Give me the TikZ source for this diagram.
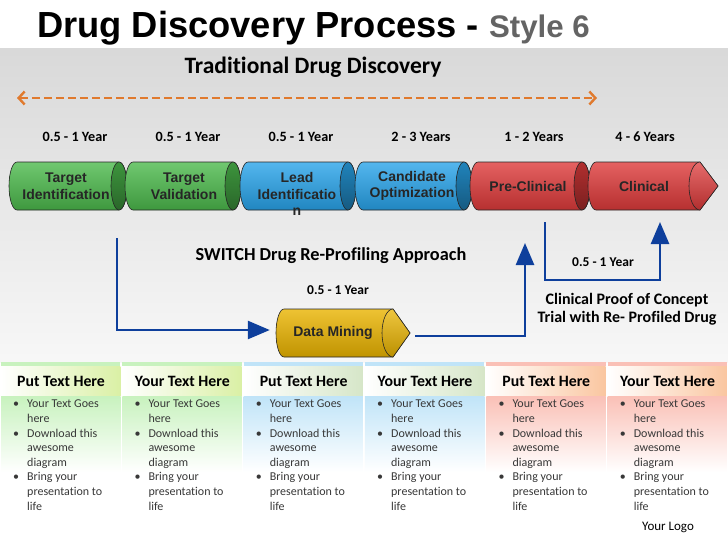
\documentclass[tikz,border=0pt]{standalone}
\usepackage{fontspec}
\setmainfont[Ligatures=NoCommon]{Carlito}
\newfontfamily\arialfont{Liberation Sans}
\newfontfamily\titlefont{Liberation Sans}
\usetikzlibrary{arrows.meta}

\definecolor{segGreen}{RGB}{76,186,76}
\definecolor{segBlue}{RGB}{40,164,234}
\definecolor{segRed}{RGB}{222,58,58}
\definecolor{segGold}{RGB}{234,180,0}
\definecolor{arrowBlue}{RGB}{14,63,156}
\definecolor{dashOrange}{RGB}{224,122,46}
\definecolor{styleGray}{RGB}{100,100,100}
\definecolor{pGreen}{RGB}{200,242,190}
\definecolor{pBlue}{RGB}{192,228,248}
\definecolor{pRed}{RGB}{250,192,182}
\definecolor{hGreen}{RGB}{218,240,165}
\definecolor{hBlue}{RGB}{214,230,200}
\definecolor{hRed}{RGB}{250,198,160}

% one drum of the chain: left x, right x, middle y, colour
\newcommand{\drumseg}[4]{%
  \draw[black!85,line width=0.6pt,top color=#4!80!white,middle color=#4!50!white,bottom color=#4!82!black]
    (#1+8,#3-24) arc[start angle=270,end angle=90,x radius=8,y radius=24]
    -- (#2-8,#3+24) arc[start angle=90,end angle=-90,x radius=8,y radius=24] -- cycle;
  \draw[black!85,line width=0.6pt,top color=#4!80!black,bottom color=#4!55!black] (#2-8,#3) ellipse[x radius=8,y radius=24];
}
% drum with a pointed end: left x, body end x, tip x, middle y, colour
\newcommand{\drumtip}[5]{%
  \draw[black!85,line width=0.6pt,top color=#5!80!white,middle color=#5!50!white,bottom color=#5!82!black]
    (#1+8,#4-24) arc[start angle=270,end angle=90,x radius=8,y radius=24]
    -- (#2,#4+24) -- (#3,#4) -- (#2,#4-24) -- cycle;
  \draw[black!85,line width=0.6pt,top color=#5!75!white,bottom color=#5!80!black]
    (#2,#4-24) arc[start angle=270,end angle=90,x radius=11,y radius=24] -- (#3,#4) -- cycle;
}

\newcommand{\colbody}{\llap{•\hspace{8pt}}Your Text Goes\\ here\\
  \llap{•\hspace{8pt}}Download this\\ awesome\\ diagram\\
  \llap{•\hspace{8pt}}Bring your\\ presentation to\\ life}

\tikzset{
  yearlbl/.style={font=\bfseries\fontsize{14.2}{16}\selectfont},
  seglbl/.style={font=\arialfont\bfseries\fontsize{14}{16.5}\selectfont,text=black!85,align=center,inner sep=0pt},
  hdtext/.style={font=\bfseries\fontsize{15.8}{18}\selectfont},
  bodytext/.style={font=\fontsize{12}{14.6}\selectfont,text=black!78,align=left,anchor=north west,inner sep=0pt},
  blueline/.style={arrowBlue,line width=2.6pt},
  bluetip/.style={blueline,-{Triangle[length=22pt,width=18pt]}},
}

\begin{document}
\begin{tikzpicture}[x=1pt,y=-1pt]
  \useasboundingbox (0,0) rectangle (728,546);
  \fill[white] (0,0) rectangle (728,546);
  \shade[top color=black!15,bottom color=black!3] (0,48) rectangle (728,362);

  % title
  \node[anchor=base west,inner sep=0pt] (title) at (37,37)
    {\titlefont\bfseries\fontsize{36.3}{37}\selectfont Drug Discovery Process - {\color{styleGray}\fontsize{31.2}{32}\selectfont Style 6}};
  \node[font=\bfseries\fontsize{23.5}{26}\selectfont] (trad) at (313,67) {Traditional Drug Discovery};
  \coordinate (tradl) at (17,98);
  \coordinate (tradr) at (597,98);
  \draw[dashOrange,line width=2.4pt,dash pattern=on 8pt off 4pt,
    {Straight Barb[length=6pt,width=13pt]}-{Straight Barb[length=6pt,width=13pt]}] (tradl) -- (tradr);

  % years
  \foreach \x/\yr [count=\k] in {75/0.5 - 1 Year,188/0.5 - 1 Year,301/0.5 - 1 Year,421/2 - 3 Years,534/1 - 2 Years,645/4 - 6 Years}
    \node[yearlbl] (yr\k) at (\x,137) {\yr};

  % chain of drums
  \drumseg{9}{127}{186}{segGreen}
  \drumseg{125}{241}{186}{segGreen}
  \drumseg{240}{356}{186}{segBlue}
  \drumseg{355}{472}{186}{segBlue}
  \drumseg{470}{590}{186}{segRed}
  \drumtip{588}{700}{718}{186}{segRed}
  \node[seglbl] (tid) at (66,186) {Target\\Identification};
  \node[seglbl] (tval) at (184,186) {Target\\Validation};
  \node[seglbl] (lead) at (297,194) {Lead\\Identificatio\\n};
  \node[seglbl] (cand) at (412,186) {Candidate\\Optimization};
  \node[seglbl] (prec) at (528,186) {Pre-Clinical};
  \node[seglbl] (clin) at (644,186) {Clinical};

  % re-profiling path
  \node[font=\bfseries\fontsize{18.3}{21}\selectfont] (switch) at (331,256) {SWITCH Drug Re-Profiling Approach};
  \node[font=\bfseries\fontsize{13.5}{15}\selectfont] (dmyr) at (338,290) {0.5 - 1 Year};
  \drumtip{276}{393}{410}{333}{segGold}
  \node[seglbl,minimum width=126pt] (dm) at (333,333) {Data Mining};
  \coordinate (swstart) at (117,238);
  \coordinate (dmout) at (415,336);
  \coordinate (pcup) at (525,243);
  \draw[bluetip] (swstart) |- ([yshift=3pt]dm.west);
  \draw[bluetip] (dmout) -| (pcup);

  \coordinate (pcdown) at (545,222);
  \coordinate (clup) at (660,222);
  \draw[bluetip] (pcdown) -- ++(0,58) -| (clup);
  \node[font=\bfseries\fontsize{13.5}{15}\selectfont] (cpyr) at (603,262) {0.5 - 1 Year};
  \node[font=\bfseries\fontsize{16}{18.5}\selectfont,align=center] (poc) at (627,309)
    {Clinical Proof of Concept\\Trial with Re- Profiled Drug};

  % text panels
  \foreach \i/\hd/\tint/\hdtint in {0/Put/pGreen/hGreen,1/Your/pGreen/hGreen,2/Put/pBlue/hBlue,
      3/Your/pBlue/hBlue,4/Put/pRed/hRed,5/Your/pRed/hRed} {
    \pgfmathsetmacro\xa{\i*121.33+1}
    \fill[\tint] (\xa,362) rectangle (\xa+119.3,366);
    \shade[left color=white,middle color=white,right color=\hdtint] (\xa,366) rectangle (\xa+119.3,396);
    \shade[top color=\tint,bottom color=white] (\xa,396) rectangle (\xa+119.3,472);
    \node[hdtext] (head\i) at (\xa+60,381) {\hd\ Text Here};
    \node[bodytext] (body\i) at (\xa+26,400) {\colbody};
  }
  \node[font=\fontsize{13}{15}\selectfont] (logo) at (668,527) {Your Logo};
\end{tikzpicture}
\end{document}
